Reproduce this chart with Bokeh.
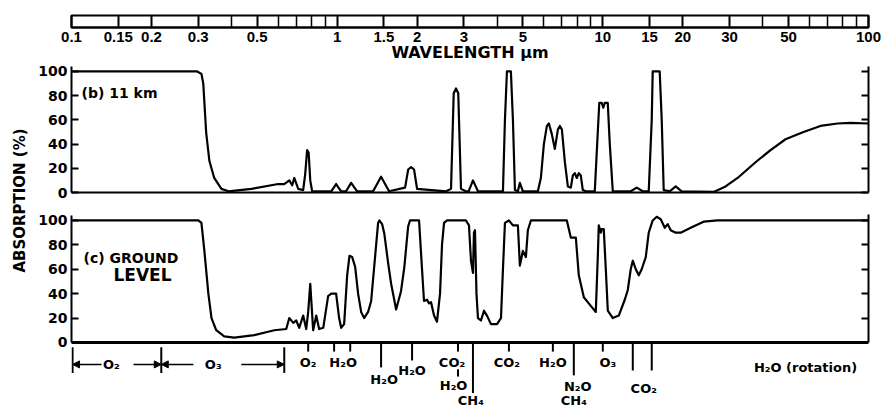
from math import pi
from bokeh.plotting import figure
from bokeh.models import (Range1d, FixedTicker, LinearAxis, CustomJSTickFormatter,
                          Span, Arrow, NormalHead)
from bokeh.layouts import row, column
from bokeh.embed import file_html
from bokeh.resources import INLINE
from bokeh.core.properties import value

# ---------------- data ----------------
ruler_ticks = [0.1, 0.15, 0.2, 0.3, 0.5, 1, 1.5, 2, 3, 5, 10, 15, 20, 30, 50, 100]
ruler_labels = ["0.1", "0.15", "0.2", "0.3", "0.5", "1", "1.5", "2", "3", "5",
                "10", "15", "20", "30", "50", "100"]
ruler_minor = [0.4, 0.6, 0.7, 0.8, 0.9, 4, 6, 7, 8, 9, 40, 60, 70, 80, 90]
pct_ticks = [0, 20, 40, 60, 80, 100]

# (b) 11 km absorption
wl_11km = [0.1, 0.295, 0.306, 0.311, 0.319, 0.328, 0.342, 0.364, 0.387, 0.472, 0.596,
           0.628, 0.656, 0.673, 0.685, 0.709, 0.740, 0.753, 0.766, 0.776, 0.787, 0.800,
           0.944, 0.985, 1.029, 1.074, 1.122, 1.182, 1.358, 1.455, 1.560, 1.792, 1.841,
           1.888, 1.937, 1.989, 2.556, 2.670, 2.733, 2.788, 2.843, 2.911, 3.040, 3.110,
           3.230, 3.373, 4.190, 4.263, 4.337, 4.489, 4.569, 4.649, 4.770, 4.853, 4.981,
           5.673, 5.823, 5.977, 6.135, 6.243, 6.407, 6.575, 6.749, 6.867, 6.989, 7.172,
           7.360, 7.551, 7.684, 7.818, 7.955, 8.093, 8.235, 8.379, 8.600, 9.297, 9.543,
           9.667, 9.879, 10.007, 10.139, 10.406, 10.59, 10.87, 12.70, 13.38, 14.09, 14.85,
           15.24, 15.37, 16.33, 16.62, 16.91, 17.81, 18.77, 19.76, 26.08, 28.93, 32.11,
           37.52, 42.74, 48.66, 56.89, 65.9, 76.38, 85.5, 100]
abs_11km = [100, 100, 98, 90, 49, 26, 12, 3, 1, 3, 7,
            7, 10, 6, 12, 3, 2, 15, 35, 33, 10, 1,
            1, 7, 1, 1, 8, 1, 1, 13, 1, 4, 19,
            21, 19, 3, 1, 3, 82, 86, 82, 3, 1, 1,
            10, 1, 1, 60, 100, 100, 60, 2, 1, 8, 1,
            1, 12, 40, 55, 57, 48, 36, 52, 55, 52, 25,
            5, 4, 14, 16, 12, 16, 14, 2, 1, 1, 50,
            74, 74, 70, 74, 74, 40, 1, 1, 4, 1, 1,
            60, 100, 100, 60, 2, 1, 5, 1, 0.5, 5, 12,
            25, 35, 44, 50, 55, 57, 57.5, 57]

# (c) ground level absorption
wl_ground = [0.1, 0.298, 0.306, 0.314, 0.325, 0.334, 0.348, 0.373, 0.407, 0.484, 0.576,
             0.639, 0.656, 0.679, 0.697, 0.715, 0.740, 0.760, 0.773, 0.787, 0.807, 0.829,
             0.850, 0.881, 0.919, 0.944, 0.985, 1.011, 1.029, 1.056, 1.084, 1.106, 1.132,
             1.162, 1.192, 1.224, 1.256, 1.300, 1.335, 1.381, 1.418, 1.434, 1.468, 1.497,
             1.547, 1.588, 1.658, 1.730, 1.781, 1.840, 1.870, 2.023, 2.076, 2.112, 2.168,
             2.206, 2.245, 2.304, 2.364, 2.427, 2.469, 2.513, 2.579, 3.040, 3.120, 3.175,
             3.230, 3.258, 3.287, 3.330, 3.373, 3.462, 3.554, 3.647, 3.776, 3.979, 4.119,
             4.190, 4.263, 4.413, 4.569, 4.770, 4.853, 4.981, 5.113, 5.202, 5.339, 7.295,
             7.551, 7.887, 8.093, 8.453, 8.981, 9.378, 9.543, 9.625, 9.795, 9.879, 10.05,
             10.23, 10.41, 10.87, 11.45, 12.06, 12.38, 12.70, 12.93, 13.27, 13.62, 13.97,
             14.47, 14.85, 15.37, 15.91, 16.48, 17.06, 17.51, 17.97, 18.77, 19.59, 21.37,
             23.91, 26.99, 100]
abs_ground = [100, 100, 98, 75, 40, 20, 10, 5, 4, 6, 10,
              11, 20, 16, 18, 12, 22, 11, 25, 48, 10, 22,
              11, 12, 38, 40, 40, 20, 12, 15, 55, 71, 70,
              62, 40, 25, 20, 25, 34, 70, 98, 100, 97, 89,
              65, 48, 27, 42, 62, 95, 100, 100, 60, 34, 35,
              32, 33, 22, 17, 40, 80, 98, 100, 100, 96, 67,
              57, 90, 92, 40, 20, 18, 26, 22, 15, 15, 20,
              60, 98, 100, 96, 96, 63, 75, 70, 92, 100, 100,
              86, 86, 55, 37, 30, 25, 70, 96, 90, 93, 93,
              60, 26, 20, 22, 35, 43, 60, 67, 60, 55, 60,
              70, 90, 100, 103, 101, 94, 97, 92, 90, 90, 94,
              99, 100, 100]

# absorber band marks under the ground-level panel
short_marks = [0.773, 0.968, 1.113, 2.837, 4.413, 6.462, 9.966]
long_marks = [1.455, 1.904, 3.230, 7.750, 12.93, 15.24]
long_marks_end = [-20.5, -14.8, -41.5, -27, -23, -23]
mol_text = ["O₂", "H₂O", "H₂O", "H₂O", "CO₂", "H₂O", "CH₄", "CO₂", "H₂O", "N₂O",
            "CH₄", "O₃", "CO₂", "H₂O (rotation)"]
mol_x = [0.773, 1.047, 1.494, 1.904, 2.693, 2.73, 3.17, 4.337, 6.462, 8.023,
         7.75, 10.41, 14.22, 57.9]
mol_y = [-16.4, -16.4, -30.5, -23, -16.4, -35.5, -47.5, -16.4, -16.4, -36,
         -47.5, -16.4, -37.7, -20.5]
band_edges = [0.1, 0.216, 0.628]
band_names = ["O₂", "O₃"]
band_centers = [0.140, 0.339]

FONT = "DejaVu Sans"
BLANK = CustomJSTickFormatter(code="return ''")

# ---------------- ruler (wavelength scale) ----------------
pa = figure(width=854, height=64, x_axis_type="log", x_range=Range1d(0.1, 100),
            y_range=Range1d(0, 1), output_backend="svg", toolbar_location=None,
            y_axis_location=None, min_border_left=39, min_border_right=18,
            min_border_top=15, min_border_bottom=37)
pa.grid.visible = False
pa.outline_line_color = "black"
pa.outline_line_width = 2
ax = pa.xaxis[0]
ax.ticker = FixedTicker(ticks=ruler_ticks, minor_ticks=ruler_minor)
ax.formatter = CustomJSTickFormatter(args=dict(rt=ruler_ticks, rl=ruler_labels), code="""
const i = rt.findIndex(t => Math.abs(t - tick) <= 1e-6 * t);
return i >= 0 ? rl[i] : "";
""")
ax.major_tick_in = 12
ax.major_tick_out = 0
ax.minor_tick_in = 12
ax.minor_tick_out = 0
ax.major_tick_line_width = 2
ax.minor_tick_line_width = 1.5
ax.axis_line_width = 2
ax.major_label_standoff = 4
ax.major_label_text_font = "Liberation Sans"
ax.major_label_text_font_style = "bold"
ax.major_label_text_font_size = "15px"
ax.major_label_text_color = "black"
ax.axis_label = "WAVELENGTH μm"
ax.axis_label_standoff = -2
ax.axis_label_text_font = FONT
ax.axis_label_text_font_style = "bold"
ax.axis_label_text_font_size = "16px"
ax.axis_label_text_color = "black"


def style_y(axis, labels=True):
    axis.ticker = FixedTicker(ticks=pct_ticks, minor_ticks=[])
    axis.major_tick_in = 7
    axis.major_tick_out = 0
    axis.minor_tick_in = 0
    axis.minor_tick_out = 0
    axis.major_tick_line_width = 2
    axis.axis_line_width = 2
    axis.major_label_standoff = 4
    axis.major_label_text_font = FONT
    axis.major_label_text_font_style = "bold"
    axis.major_label_text_color = "black"
    axis.major_label_text_font_size = "14px"
    if not labels:
        axis.formatter = BLANK
        axis.major_label_standoff = 0


# ---------------- (b) 11 km ----------------
pb = figure(width=854, height=136, x_axis_type="log", x_range=Range1d(0.0991, 100),
            y_range=Range1d(0, 104.1), output_backend="svg", toolbar_location=None,
            min_border_left=39, min_border_right=18, min_border_top=2, min_border_bottom=8)
pb.grid.visible = False
pb.outline_line_color = None
xb = pb.xaxis[0]
xb.ticker = FixedTicker(ticks=[], minor_ticks=[])
xb.formatter = BLANK
xb.major_tick_out = 0
xb.major_label_standoff = 0
xb.axis_line_width = 2
style_y(pb.yaxis[0])
rb = LinearAxis()
style_y(rb, labels=False)
pb.add_layout(rb, "right")
pb.line(wl_11km, abs_11km, line_color="black", line_width=2.2, line_join="round")
pb.text(x=[0.1081], y=[81.8], text=["(b) 11 km"], text_font=value(FONT),
        text_font_style="bold", text_font_size="14px", text_align="left",
        text_baseline="middle", text_color="black")

# ---------------- (c) ground level ----------------
pc = figure(width=854, height=210, x_axis_type="log", x_axis_location=None,
            x_range=Range1d(0.0991, 100), y_range=Range1d(-55.8, 105.7),
            output_backend="svg", toolbar_location=None,
            min_border_left=39, min_border_right=18, min_border_top=13, min_border_bottom=0)
pc.grid.visible = False
pc.outline_line_color = None
style_y(pc.yaxis[0])
pc.yaxis[0].bounds = (0, 104)
rc = LinearAxis(bounds=(0, 105))
style_y(rc, labels=False)
pc.add_layout(rc, "right")
pc.add_layout(Span(location=0, dimension="width", line_color="black", line_width=3))
pc.line(wl_ground, abs_ground, line_color="black", line_width=2.2, line_join="round")
pc.text(x=[0.110], y=[68.9], text=["(c) GROUND"], text_font=value(FONT),
        text_font_style="bold", text_font_size="14px", text_align="left",
        text_baseline="middle", text_color="black")
pc.text(x=[0.1427], y=[55], text=["LEVEL"], text_font=value(FONT),
        text_font_style="bold", text_font_size="17px", text_align="left",
        text_baseline="middle", text_color="black")

# band marks
pc.segment(x0=short_marks, y0=[0] * len(short_marks), x1=short_marks,
           y1=[-7.5] * len(short_marks), line_color="black", line_width=2)
pc.segment(x0=long_marks, y0=[0] * len(long_marks), x1=long_marks,
           y1=long_marks_end, line_color="black", line_width=2)
pc.segment(x0=[2.837], y0=[-22], x1=[2.837], y1=[-28], line_color="black", line_width=2)
pc.text(x=mol_x, y=mol_y, text=mol_text, text_font=value(FONT), text_font_style="bold",
        text_font_size="13px", text_align="center", text_baseline="middle",
        text_color="black")

# O2 / O3 region arrows
pc.segment(x0=band_edges, y0=[-4] * 3, x1=band_edges, y1=[-25] * 3,
           line_color="black", line_width=2)
pc.text(x=band_centers, y=[-18, -18], text=band_names, text_font=value(FONT),
        text_font_style="bold", text_font_size="13px", text_align="center",
        text_baseline="middle", text_color="black")
arrow_spans = [(0.1286, 0.1), (0.1697, 0.216), (0.2854, 0.216), (0.4326, 0.628)]
for xs, xe in arrow_spans:
    pc.add_layout(Arrow(end=NormalHead(size=7, fill_color="black", line_color="black"),
                        x_start=xs, y_start=-18, x_end=xe, y_end=-18,
                        line_color="black", line_width=1.5))

# ---------------- y axis title ----------------
pl = figure(width=32, height=410, x_range=Range1d(0, 32), y_range=Range1d(0, 410),
            x_axis_location=None, y_axis_location=None, min_border=0,
            output_backend="svg", toolbar_location=None)
pl.grid.visible = False
pl.outline_line_color = None
pl.text(x=[19], y=[210], text=["ABSORPTION (%)"], angle=pi / 2, text_font=value(FONT),
        text_font_style="bold", text_font_size="15px", text_align="center",
        text_baseline="middle", text_color="black")

layout = row(pl, column(pa, pb, pc))
open("out.html", "w").write(file_html(layout, INLINE))
